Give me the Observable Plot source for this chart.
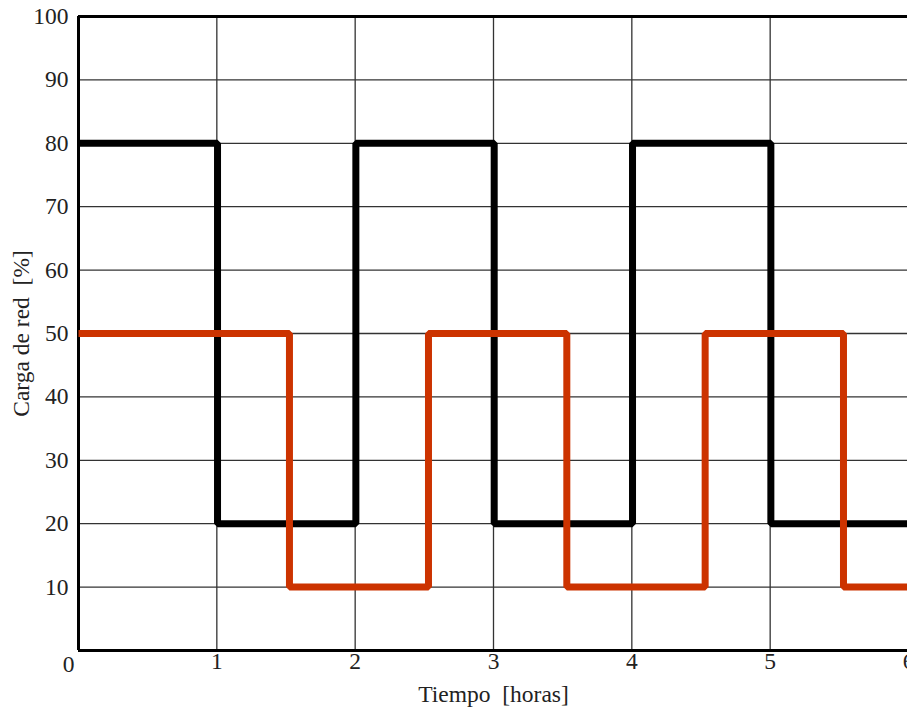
<!DOCTYPE html>
<html>
<head>
<meta charset="utf-8">
<script src="https://cdn.jsdelivr.net/npm/d3@7"></script>
<script src="https://cdn.jsdelivr.net/npm/@observablehq/plot@0.6"></script>
<style>
html, body { margin: 0; padding: 0; overflow: hidden; background: #fff; }
svg { max-width: none !important; }
</style>
</head>
<body>
<div id="chart"></div>
<script>
const timeBlack = [0, 1.005, 2.005, 3.005, 4.005, 5.005, 6];
const loadBlack = [80, 20, 80, 20, 80, 20, 20];
const timeRed = [0, 1.525, 2.53, 3.53, 4.53, 5.53, 6];
const loadRed = [50, 10, 50, 10, 50, 10, 10];
const xTicks = [1, 2, 3, 4, 5, 6];
const yTicks = [10, 20, 30, 40, 50, 60, 70, 80, 90, 100];
const xLabel = "Tiempo  [horas]";
const yLabel = "Carga de red  [%]";

const black = timeBlack.map((t, i) => ({t, v: loadBlack[i]}));
const red = timeRed.map((t, i) => ({t, v: loadRed[i]}));

const font = "Liberation Serif, Times New Roman, serif";
const fs = 23.5;

const chart = Plot.plot({
  width: 920,
  height: 711,
  marginLeft: 78,
  marginRight: 12,
  marginTop: 16,
  marginBottom: 61,
  style: {fontFamily: font, fontSize: fs + "px", color: "#222", background: "#fff", maxWidth: "none"},
  x: {domain: [0, 6]},
  y: {domain: [0, 100]},
  marks: [
    Plot.ruleX(xTicks, {stroke: "#333", strokeWidth: 1.3}),
    Plot.ruleY(yTicks, {stroke: "#333", strokeWidth: 1.3}),
    Plot.ruleY([0], {stroke: "#000", strokeWidth: 3}),
    Plot.ruleY([100], {stroke: "#000", strokeWidth: 3}),
    Plot.ruleX([0], {stroke: "#000", strokeWidth: 3}),
    Plot.line(black, {x: "t", y: "v", curve: "step-after", stroke: "#000", strokeWidth: 7, strokeLinejoin: "miter", strokeLinecap: "butt"}),
    Plot.line(red, {x: "t", y: "v", curve: "step-after", stroke: "#cc3300", strokeWidth: 7, strokeLinejoin: "miter", strokeLinecap: "butt"}),
    Plot.axisY(yTicks, {tickSize: 0, tickPadding: 10, fontSize: fs, label: null, tickFormat: d3.format("d")}),
    Plot.axisX(xTicks, {tickSize: 0, tickPadding: 2, fontSize: fs, label: null, tickFormat: d3.format("d")}),
    Plot.text([0], {x: d => d, frameAnchor: "bottom", dx: -10, dy: 14, fontSize: fs, lineAnchor: "middle"}),
    Plot.text([xLabel], {frameAnchor: "bottom", dy: 44, fontSize: fs, lineAnchor: "middle"}),
    Plot.text([yLabel], {frameAnchor: "left", dx: -57, rotate: -90, fontSize: fs, lineAnchor: "middle", textAnchor: "middle"})
  ]
});
chart.style.maxWidth = "none";
document.getElementById("chart").appendChild(chart);
</script>
</body>
</html>
